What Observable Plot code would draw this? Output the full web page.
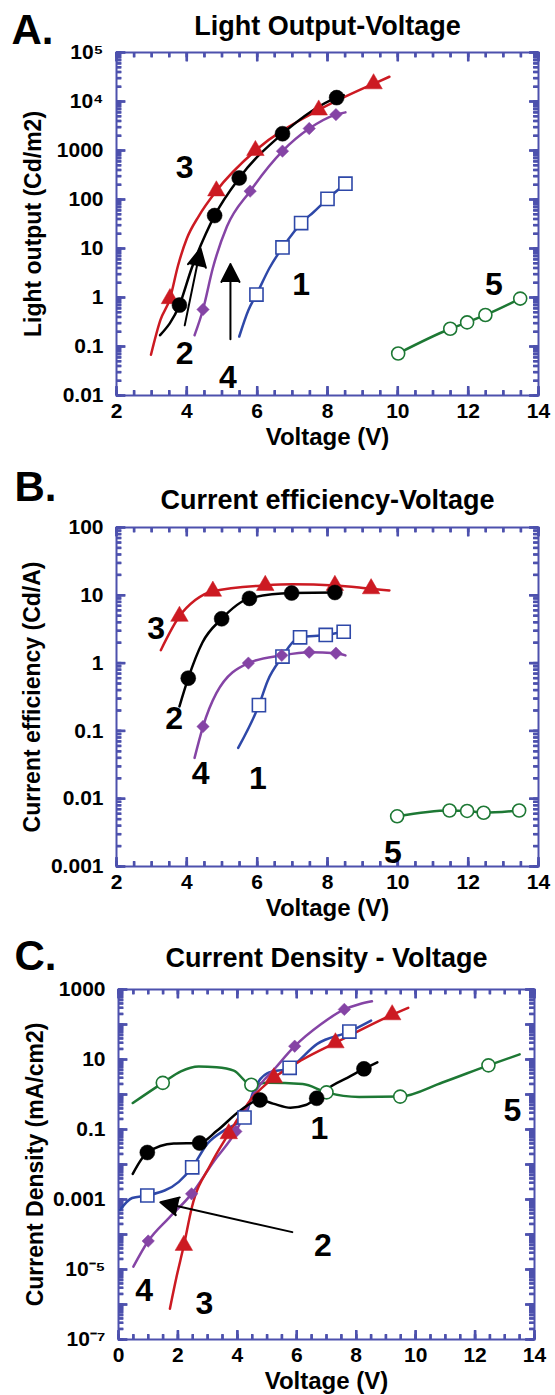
<!DOCTYPE html>
<html>
<head>
<meta charset="utf-8">
<script src="https://cdn.jsdelivr.net/npm/d3@7"></script>
<script src="https://cdn.jsdelivr.net/npm/@observablehq/plot@0.6"></script>
<style>
html,body{margin:0;padding:0;background:#fff;}
#wrap{position:relative;width:555px;height:1395px;overflow:hidden;background:#fff;}
#wrap svg{position:absolute;left:0;}
</style>
</head>
<body>
<div id="wrap"></div>
<script>
// ---------- Panel A: Light output (Cd/m2) vs Voltage (V) ----------
const A1_line = [[5.49,0.16],[5.75,0.55],[5.98,1.15],[6.35,4],[6.72,10.5],[7.05,22],[7.25,33],[7.6,55],[8.0,103],[8.51,210]];
const A1_pts  = [[5.98,1.15],[6.72,10.5],[7.25,33],[8.0,103],[8.51,210]];
const A2_line = [[3.24,0.17],[3.79,0.7],[4.14,4],[4.54,20],[4.79,47],[5.49,275],[6.72,2200],[8.26,12000],[8.46,13500]];
const A2_pts  = [[3.79,0.7],[4.79,47],[5.49,275],[6.72,2200],[8.26,12000]];
const A3_line = [[2.98,0.068],[3.25,0.35],[3.52,0.95],[3.75,4.5],[4.0,16],[4.34,46],[4.84,150],[5.95,1000],[7.75,6700],[9.31,23000],[9.76,32000]];
const A3_pts  = [[3.52,0.95],[4.84,150],[5.95,1000],[7.75,6700],[9.31,23000]];
const A4_line = [[4.22,0.17],[4.46,0.57],[4.74,4],[5.14,28],[5.8,148],[6.72,970],[7.48,2800],[8.24,5400],[8.51,6000]];
const A4_pts  = [[4.46,0.57],[5.8,148],[6.72,970],[7.48,2800],[8.24,5400]];
const A5_line = [[10.01,0.072],[11.49,0.23],[11.97,0.31],[12.49,0.44],[13.48,0.95]];
const A5_pts  = [[10.01,0.072],[11.49,0.23],[11.97,0.31],[12.49,0.44],[13.48,0.95]];
const A_labels = [["3",3.94,447],["2",3.94,0.072],["4",5.17,0.023],["1",7.25,1.8],["5",12.73,1.8]];
const A_arrows = [[3.94,0.27,4.39,10],[5.24,0.14,5.24,4.8]];
const A_xTicks = [2,4,6,8,10,12,14];
const A_yTicks = [0.01,0.1,1,10,100,1000,1e4,1e5];
const A_yTickText = ["0.01","0.1","1","10","100","1000","10\u2074","10\u2075"];

// ---------- Panel B: Current efficiency (Cd/A) vs Voltage (V) ----------
const B1_line = [[5.46,0.056],[6.05,0.24],[6.3,0.55],[6.72,1.25],[7.0,2.0],[7.22,2.4],[7.95,2.6],[8.46,2.9]];
const B1_pts  = [[6.05,0.24],[6.72,1.25],[7.22,2.4],[7.95,2.6],[8.46,2.9]];
const B2_line = [[3.79,0.23],[4.04,0.6],[4.44,2],[4.99,4.5],[5.78,9.0],[6.98,10.8],[8.21,11],[8.3,11]];
const B2_pts  = [[4.04,0.6],[4.99,4.5],[5.78,9.0],[6.98,10.8],[8.21,11]];
const B3_line = [[3.26,1.55],[3.79,4.9],[4.24,8.5],[4.74,11.5],[6.23,14],[7.0,14.5],[8.21,14],[9.24,12.5],[9.76,11.8]];
const B3_pts  = [[3.79,4.9],[4.74,11.5],[6.23,14],[8.21,14],[9.24,12.5]];
const B4_line = [[4.22,0.04],[4.46,0.116],[4.84,0.36],[5.75,1.0],[6.7,1.3],[7.48,1.45],[8.24,1.4],[8.51,1.3]];
const B4_pts  = [[4.46,0.116],[5.75,1.0],[6.7,1.3],[7.48,1.45],[8.24,1.4]];
const B5_line = [[9.98,0.0055],[11.47,0.0067],[11.97,0.0066],[12.44,0.0062],[13.45,0.0067]];
const B5_pts  = [[9.98,0.0055],[11.47,0.0067],[11.97,0.0066],[12.44,0.0062],[13.45,0.0067]];
const B_labels = [["3",3.13,3.2],["2",3.64,0.15],["4",4.39,0.023],["1",6.02,0.0195],["5",9.86,0.0016]];
const B_xTicks = [2,4,6,8,10,12,14];
const B_yTicks = [0.001,0.01,0.1,1,10,100];
const B_yTickText = ["0.001","0.01","0.1","1","10","100"];

// ---------- Panel C: Current density (mA/cm2) vs Voltage (V) ----------
const C1_line = [[0.05,5e-4],[0.46,1.1e-3],[0.97,1.3e-3],[2.03,3.2e-3],[2.48,8.3e-3],[3.0,0.04],[3.6,0.1],[4.24,0.22],[4.55,1.3],[5.0,4],[5.76,5.8],[6.69,28],[7.77,63],[8.5,130]];
const C1_pts  = [[0.97,1.3e-3],[2.48,8.3e-3],[4.24,0.22],[5.76,5.8],[7.77,63]];
const C2_line = [[0.48,5.4e-3],[0.97,0.022],[1.86,0.04],[2.73,0.041],[3.32,0.093],[4.1,0.35],[4.76,0.7],[5.2,0.55],[5.79,0.42],[6.3,0.5],[6.67,0.78],[7.2,1.8],[7.7,3],[8.26,5.4],[8.71,8.3]];
const C2_pts  = [[0.97,0.022],[2.73,0.041],[4.76,0.7],[6.67,0.78],[8.26,5.4]];
const C3_line = [[1.73,7.6e-7],[1.95,6e-6],[2.2,4.9e-5],[2.47,6e-4],[3.1,0.01],[3.71,0.076],[4.5,0.8],[5.23,3.0],[6.2,10],[7.3,30],[9.21,190],[9.75,300]];
const C3_pts  = [[2.2,4.9e-5],[3.71,0.076],[5.23,3.0],[7.3,30],[9.21,190]];
const C4_line = [[0.5,1.2e-5],[1.0,6.5e-5],[1.7,3e-4],[2.46,1.45e-3],[3.2,0.012],[3.95,0.088],[4.6,1.2],[5.3,6],[5.93,24],[6.8,100],[7.6,270],[8.1,380],[8.53,460]];
const C4_pts  = [[1.0,6.5e-5],[2.46,1.45e-3],[3.95,0.088],[5.93,24],[7.6,270]];
const C5_line = [[0.48,0.57],[1.49,2.15],[2.1,4.6],[2.7,6.3],[3.3,6.0],[3.88,4.8],[4.47,1.9],[5.0,2.15],[6.2,2.0],[7.0,1.15],[8.1,0.85],[9.48,0.87],[10.9,2.2],[12.45,6.8],[13.5,14]];
const C5_pts  = [[1.49,2.15],[4.47,1.9],[7.0,1.15],[9.48,0.87],[12.45,6.8]];
const C_labels = [["1",6.76,0.107],["5",13.26,0.35],["2",6.88,4.9e-5],["4",0.86,2.5e-6],["3",2.89,1.07e-6]];
const C_arrows = [[5.85,1.17e-4,1.41,8.3e-4]];
const C_xTicks = [0,2,4,6,8,10,12,14];
const C_yTicks = [1e-7,1e-6,1e-5,1e-4,1e-3,0.01,0.1,1,10,100,1000];
const C_yLabelVals = [1e-7,1e-5,0.001,0.1,10,1000];
const C_yTickText = ["10\u207B\u2077","10\u207B\u2075","0.001","0.1","10","1000"];

// ---------- styles ----------
const FRAME = "#4d51ad";
const COL = {red:"#cc1a22", black:"#000000", purple:"#8544a5", blue:"#2e48a8", green:"#1d7834"};
const FONT = "'Liberation Sans', Arial, Helvetica, sans-serif";

const rows = p => p.map(([v, y]) => ({v, y}));

function buildPanel(cfg) {
  const W = 555 - cfg.ml - cfg.mr;
  const H = cfg.height - cfg.mt - cfg.mb;
  const [x0, x1] = cfg.xDomain, [y0, y1] = cfg.yDomain;
  const xMinor = d3.ticks(x0, x1, cfg.xMinor);
  const yMinor = d3.scaleLog().domain(cfg.yDomain).ticks(40);
  // inward tick lengths (px) converted to the scales' units
  const dx = len => len * (x1 - x0) / W;
  const fy = len => Math.pow(10, len * Math.log10(y1 / y0) / H);
  const tk = {stroke: FRAME, strokeWidth: 2.4, strokeLinecap: "butt"};
  const tickData = (len, xs, ys) => [
    ...xs.map(x => ({xa: x, xb: x, ya: y0, yb: y0 * fy(len)})),
    ...xs.map(x => ({xa: x, xb: x, ya: y1 / fy(len), yb: y1})),
    ...ys.map(y => ({xa: x0, xb: x0 + dx(len), ya: y, yb: y})),
    ...ys.map(y => ({xa: x1 - dx(len), xb: x1, ya: y, yb: y}))
  ];
  const ticks = [...tickData(5, xMinor, yMinor), ...tickData(9, cfg.xTicks, cfg.yTicks)];
  // second, independent way of drawing the same inward ticks (frame-inset ticks)
  const insetTicks = (len, xs, ys) => [
    Plot.tickX(xs, {x: d => d, insetTop: H - len, ...tk}),
    Plot.tickX(xs, {x: d => d, insetBottom: H - len, ...tk}),
    Plot.tickY(ys, {y: d => d, insetRight: W - len, ...tk}),
    Plot.tickY(ys, {y: d => d, insetLeft: W - len, ...tk})
  ];
  const labelMap = new Map(cfg.yLabelVals.map((d, i) => [d, cfg.yLabelText[i]]));
  const txt = {fontWeight: "bold", lineAnchor: "middle", textAnchor: "middle"};
  const marks = [
    ...insetTicks(5, xMinor, yMinor),
    ...insetTicks(9, cfg.xTicks, cfg.yTicks),
    Plot.link(ticks, {x1: "xa", y1: "ya", x2: "xb", y2: "yb", ...tk}),
    Plot.frame({stroke: FRAME, strokeWidth: 2}),
    Plot.axisX(cfg.xTicks, {anchor: "bottom", tickSize: 0, tickPadding: 8, stroke: "none", fill: "black",
      fontSize: 21, fontWeight: "bold", label: null}),
    Plot.axisY(cfg.yLabelVals, {anchor: "left", tickSize: 0, tickPadding: 13, stroke: "none", fill: "black",
      fontSize: 21, fontWeight: "bold", label: null, tickFormat: d => labelMap.get(d)}),
    Plot.text([cfg.title], {frameAnchor: "top", dy: cfg.titleDy, fontSize: 27, ...txt}),
    Plot.text([cfg.letter], {frameAnchor: "top-left", dx: cfg.letterDx, dy: cfg.letterDy, fontSize: 42, ...txt, textAnchor: "start"}),
    Plot.text([cfg.ylabel], {frameAnchor: "left", dx: cfg.ylabelDx, rotate: -90, fontSize: 23, ...txt}),
    Plot.text(["Voltage (V)"], {frameAnchor: "bottom", dy: 42, fontSize: 24, ...txt}),
    ...cfg.series.map(s => Plot.line(rows(s[0]), {x: "v", y: "y", stroke: s[2].color, strokeWidth: 2.5, curve: "monotone-x"})),
    ...cfg.series.map(s => Plot.dot(rows(s[1]), {x: "v", y: "y", symbol: s[2].symbol, r: s[2].r,
      fill: s[2].open ? "white" : s[2].color, stroke: s[2].color, strokeWidth: s[2].open ? 1.6 : 0.5})),
    Plot.text(cfg.labels, {x: d => d[1], y: d => d[2], text: d => d[0], fontSize: 32, ...txt}),
  ];
  if (cfg.arrows) marks.push(Plot.arrow(cfg.arrows, {x1: d => d[0], y1: d => d[1], x2: d => d[2], y2: d => d[3],
    stroke: "black", fill: "black", strokeWidth: 2, headLength: 15, headAngle: 54}));
  const svg = Plot.plot({
    width: 555, height: cfg.height,
    marginTop: cfg.mt, marginBottom: cfg.mb, marginLeft: cfg.ml, marginRight: cfg.mr,
    x: {type: "linear", domain: cfg.xDomain},
    y: {type: "log", domain: cfg.yDomain},
    style: {fontFamily: FONT, color: "black", background: "transparent", overflow: "visible"},
    marks
  });
  svg.style.top = cfg.top + "px";
  return svg;
}

const sBlue   = {color: COL.blue,   symbol: "square",   r: 7.4, open: true};
const sBlack  = {color: COL.black,  symbol: "circle",   r: 7.5};
const sRed    = {color: COL.red,    symbol: "triangle", r: 6.5};
const sPurple = {color: COL.purple, symbol: "diamond2", r: 5.6};
const sGreen  = {color: COL.green,  symbol: "circle",   r: 6.5, open: true};

const wrap = document.getElementById("wrap");

wrap.appendChild(buildPanel({
  top: 0, height: 460, mt: 52, mb: 65, ml: 116, mr: 17,
  xDomain: [2, 14], yDomain: [0.01, 1e5], xMinor: 24,
  xTicks: A_xTicks, yTicks: A_yTicks, yLabelVals: A_yTicks, yLabelText: A_yTickText,
  title: "Light Output-Voltage", titleDy: -26, letter: "A.", letterDx: -105, letterDy: -22,
  ylabel: "Light output (Cd/m2)", ylabelDx: -83,
  series: [[A5_line, A5_pts, sGreen], [A1_line, A1_pts, sBlue], [A4_line, A4_pts, sPurple], [A3_line, A3_pts, sRed], [A2_line, A2_pts, sBlack]],
  labels: A_labels, arrows: A_arrows
}));

wrap.appendChild(buildPanel({
  top: 460, height: 460, mt: 67, mb: 54, ml: 116, mr: 17,
  xDomain: [2, 14], yDomain: [0.001, 100], xMinor: 24,
  xTicks: B_xTicks, yTicks: B_yTicks, yLabelVals: B_yTicks, yLabelText: B_yTickText,
  title: "Current efficiency-Voltage", titleDy: -27, letter: "B.", letterDx: -102, letterDy: -40,
  ylabel: "Current efficiency (Cd/A)", ylabelDx: -84,
  series: [[B5_line, B5_pts, sGreen], [B1_line, B1_pts, sBlue], [B4_line, B4_pts, sPurple], [B3_line, B3_pts, sRed], [B2_line, B2_pts, sBlack]],
  labels: B_labels, arrows: null
}));

wrap.appendChild(buildPanel({
  top: 920, height: 475, mt: 69, mb: 56, ml: 118, mr: 21,
  xDomain: [0, 14], yDomain: [1e-7, 1000], xMinor: 28,
  xTicks: C_xTicks, yTicks: C_yTicks, yLabelVals: C_yLabelVals, yLabelText: C_yTickText,
  title: "Current Density - Voltage", titleDy: -31, letter: "C.", letterDx: -104, letterDy: -33,
  ylabel: "Current Density (mA/cm2)", ylabelDx: -83,
  series: [[C5_line, C5_pts, sGreen], [C1_line, C1_pts, sBlue], [C4_line, C4_pts, sPurple], [C3_line, C3_pts, sRed], [C2_line, C2_pts, sBlack]],
  labels: C_labels, arrows: C_arrows
}));
</script>
</body>
</html>
